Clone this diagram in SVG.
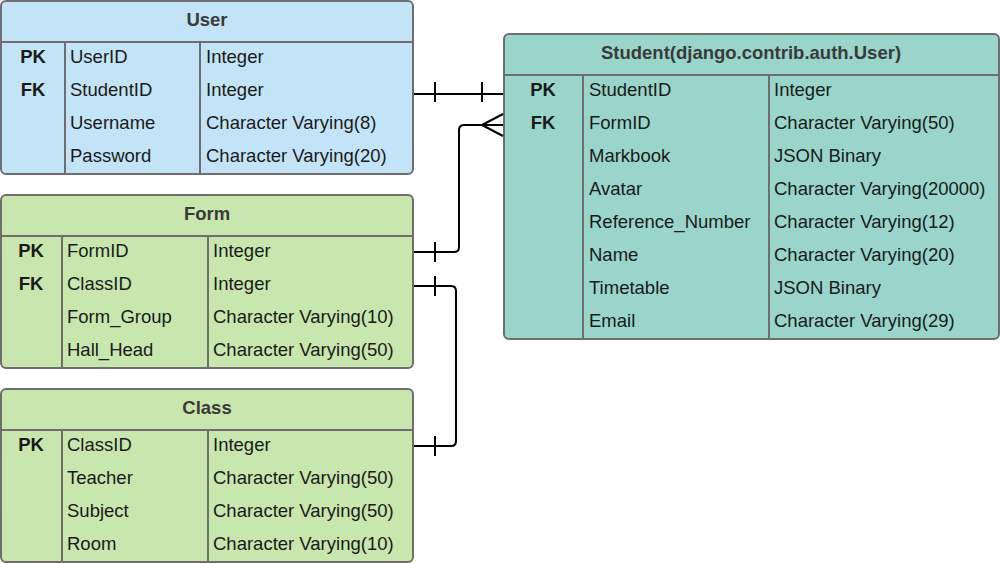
<svg xmlns="http://www.w3.org/2000/svg" width="1000" height="563" viewBox="0 0 1000 563">
<style>
.box{stroke:#6e6e6e;stroke-width:2}
.ln{stroke:#6e6e6e;stroke-width:2;fill:none}
.blue{fill:#c3e4f6}
.green{fill:#c7e7ae}
.teal{fill:#99d5ca}
text{font-family:"Liberation Sans",Arial,sans-serif;font-size:18.5px;fill:#1a1a1a;dominant-baseline:central}
.h{font-weight:bold;fill:#3a3a3a;text-anchor:middle}
.k{font-weight:bold;text-anchor:middle}
.c{stroke:#000;stroke-width:2;fill:none;stroke-linejoin:round}
</style>
<rect width="1000" height="563" fill="#fff"/>
<g id="user">
<rect class="box blue" x="1" y="1" width="412" height="173" rx="5"/>
<line class="ln" x1="1" y1="42" x2="413" y2="42"/>
<line class="ln" x1="65" y1="42" x2="65" y2="174"/>
<line class="ln" x1="200" y1="42" x2="200" y2="174"/>
<text class="h" x="207" y="19">User</text>
<text class="k" x="33" y="56">PK</text>
<text class="k" x="33" y="89">FK</text>
<text x="70" y="56">UserID</text><text x="206" y="56">Integer</text>
<text x="70" y="89">StudentID</text><text x="206" y="89">Integer</text>
<text x="70" y="122">Username</text><text x="206" y="122">Character Varying(8)</text>
<text x="70" y="155">Password</text><text x="206" y="155">Character Varying(20)</text>
</g>
<g id="student">
<rect class="box teal" x="504" y="34" width="495" height="305" rx="5"/>
<line class="ln" x1="504" y1="75" x2="999" y2="75"/>
<line class="ln" x1="583" y1="75" x2="583" y2="339"/>
<line class="ln" x1="769" y1="75" x2="769" y2="339"/>
<text class="h" x="751" y="52">Student(django.contrib.auth.User)</text>
<text class="k" x="543" y="89">PK</text>
<text class="k" x="543" y="122">FK</text>
<text x="589" y="89">StudentID</text><text x="774" y="89">Integer</text>
<text x="589" y="122">FormID</text><text x="774" y="122">Character Varying(50)</text>
<text x="589" y="155">Markbook</text><text x="774" y="155">JSON Binary</text>
<text x="589" y="188">Avatar</text><text x="774" y="188">Character Varying(20000)</text>
<text x="589" y="221">Reference_Number</text><text x="774" y="221">Character Varying(12)</text>
<text x="589" y="254">Name</text><text x="774" y="254">Character Varying(20)</text>
<text x="589" y="287">Timetable</text><text x="774" y="287">JSON Binary</text>
<text x="589" y="320">Email</text><text x="774" y="320">Character Varying(29)</text>
</g>
<g id="form">
<rect class="box green" x="1" y="195" width="412" height="173" rx="5"/>
<line class="ln" x1="1" y1="236" x2="413" y2="236"/>
<line class="ln" x1="62" y1="236" x2="62" y2="368"/>
<line class="ln" x1="208" y1="236" x2="208" y2="368"/>
<text class="h" x="207" y="213">Form</text>
<text class="k" x="31" y="250">PK</text>
<text class="k" x="31" y="283">FK</text>
<text x="67" y="250">FormID</text><text x="213" y="250">Integer</text>
<text x="67" y="283">ClassID</text><text x="213" y="283">Integer</text>
<text x="67" y="316">Form_Group</text><text x="213" y="316">Character Varying(10)</text>
<text x="67" y="349">Hall_Head</text><text x="213" y="349">Character Varying(50)</text>
</g>
<g id="class">
<rect class="box green" x="1" y="389" width="412" height="173" rx="5"/>
<line class="ln" x1="1" y1="430" x2="413" y2="430"/>
<line class="ln" x1="62" y1="430" x2="62" y2="562"/>
<line class="ln" x1="208" y1="430" x2="208" y2="562"/>
<text class="h" x="207" y="407">Class</text>
<text class="k" x="31" y="444">PK</text>
<text x="67" y="444">ClassID</text><text x="213" y="444">Integer</text>
<text x="67" y="477">Teacher</text><text x="213" y="477">Character Varying(50)</text>
<text x="67" y="510">Subject</text><text x="213" y="510">Character Varying(50)</text>
<text x="67" y="543">Room</text><text x="213" y="543">Character Varying(10)</text>
</g>
<g id="connectors">
<path class="c" d="M414 94 H503"/>
<path class="c" d="M435 82 V102 M482 82 V102"/>
<path class="c" d="M414 252 H454 Q459 252 459 247 V130 Q459 125 464 125 H503"/>
<path class="c" d="M435 242 V262"/>
<path class="c" d="M482 125 L503 114 M482 125 L503 136"/>
<path class="c" d="M414 286 H451 Q456 286 456 291 V441 Q456 446 451 446 H414"/>
<path class="c" d="M435 276 V296 M435 436 V456"/>
</g>
</svg>
